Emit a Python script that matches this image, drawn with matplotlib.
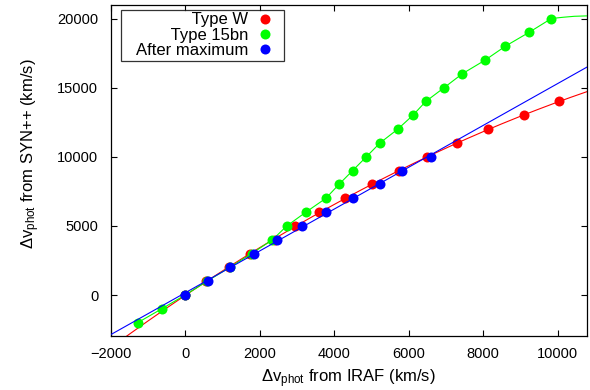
import numpy as np
import matplotlib
matplotlib.use("Agg")
import matplotlib.pyplot as plt
from matplotlib.lines import Line2D

plt.rcParams['font.family'] = ['Liberation Sans', 'DejaVu Sans']
plt.rcParams['mathtext.fontset'] = 'custom'
plt.rcParams['mathtext.rm'] = 'Liberation Sans'
plt.rcParams['mathtext.it'] = 'Liberation Sans:italic'

# ---- data ----
red_x = [0, 564, 1180, 1750, 2420, 2950, 3591, 4305, 5010, 5750, 6505, 7312, 8138, 9097, 10040]
red_y = [0, 1000, 2000, 3000, 4000, 5000, 6000, 7000, 8000, 9000, 10000, 11000, 12000, 13000, 14000]

green_x = [-1274, -630, 0, 590, 1195, 1790, 2345, 2731, 3245, 3780, 4129, 4497, 4866, 5232,
           5710, 6115, 6460, 6955, 7440, 8060, 8600, 9235, 9835]
green_y = [-2000, -1000, 0, 1000, 2000, 3000, 4000, 5000, 6000, 7000, 8000, 9000, 10000, 11000,
           12000, 13000, 14000, 15000, 16000, 17000, 18000, 19000, 20000]

# continuation of the green (Type 15bn) curve past its last point
green_tail_x = [10150, 10450, 10790]
green_tail_y = [20090, 20160, 20190]

blue_x = [0, 608, 1191, 1836, 2468, 3150, 3780, 4515, 5223, 5820, 6603]
blue_y = [0, 1000, 2000, 3000, 4000, 5000, 6000, 7000, 8000, 9000, 10000]

labels = ["Type W", "Type 15bn", "After maximum"]
colors = ["#ff0000", "#00ff00", "#0000ff"]

xmin, xmax = -2000, 10790
ymin, ymax = -3000, 21000

fig = plt.figure(figsize=(5.9, 3.9), dpi=100)
ax = fig.add_axes([0.1876, 0.1372, 0.8073, 0.8508])

# fitted lines derived from the data (red: quadratic, blue: linear)
xx = np.linspace(xmin, xmax, 600)
red_fit = np.polyval(np.polyfit(red_x, red_y, 2), xx)
blue_fit = np.polyval(np.polyfit(blue_x, blue_y, 1), xx)

ms = 7.2
lw = 0.8
ax.plot(xx, red_fit, color=colors[0], lw=lw, zorder=2)
ax.plot(red_x, red_y, 'o', color=colors[0], ms=ms, mec='none', zorder=3)
ax.plot(list(green_x) + green_tail_x, list(green_y) + green_tail_y,
        color=colors[1], lw=lw, zorder=4)
ax.plot(green_x, green_y, 'o', color=colors[1], ms=ms, mec='none', zorder=5)
ax.plot(xx, blue_fit, color=colors[2], lw=lw, zorder=6)
ax.plot(blue_x, blue_y, 'o', color=colors[2], ms=ms, mec='none', zorder=7)

ax.set_xlim(xmin, xmax)
ax.set_ylim(ymin, ymax)
ax.set_xticks([-2000, 0, 2000, 4000, 6000, 8000, 10000])
ax.set_yticks([0, 5000, 10000, 15000, 20000])
ax.set_xticklabels(["\u22122000", "0", "2000", "4000", "6000", "8000", "10000"])
ax.tick_params(direction='in', length=4.5, width=0.8, top=True, right=True,
               labelsize=10.5, color='black')
ax.tick_params(axis='x', pad=7.5)
ax.tick_params(axis='y', pad=9)
for s in ax.spines.values():
    s.set_linewidth(0.9)
    s.set_color('black')

ax.set_xlabel(r"$\Delta$v$_\mathrm{phot}$ from IRAF (km/s)", fontsize=12)
ax.set_ylabel(r"$\Delta$v$_\mathrm{phot}$ from SYN++ (km/s)", fontsize=12)
ax.xaxis.set_label_coords(0.5, -0.126)
ax.xaxis.label.set_va('center')
ax.yaxis.set_label_coords(-0.168, 0.55)
ax.yaxis.label.set_va('center')

handles = [Line2D([], [], ls='none', marker='o', color=c, ms=ms, mec='none') for c in colors]
pad_labels = ["   " + s for s in labels]
leg = ax.legend(handles, pad_labels, loc='upper left', bbox_to_anchor=(0.021, 0.984),
                markerfirst=False, fontsize=12, frameon=True, fancybox=False,
                borderpad=0.15, labelspacing=0.02, handlelength=2.0, handletextpad=0.0,
                borderaxespad=0.0)
leg.get_frame().set_edgecolor('black')
leg.get_frame().set_linewidth(0.9)
for t in leg.get_texts():
    t.set_ha('right')
leg._legend_box.align = "right"

fig.savefig("out.png", dpi=100)
